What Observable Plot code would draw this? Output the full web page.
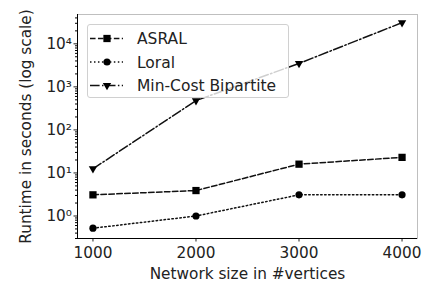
<!DOCTYPE html>
<html>
<head>
<meta charset="utf-8">
<script src="https://cdn.jsdelivr.net/npm/d3@7"></script>
<script src="https://cdn.jsdelivr.net/npm/@observablehq/plot@0.6"></script>
<style>
  body { margin: 0; background: #fff; }
  #wrap { position: relative; width: 424px; height: 281px; font-family: "DejaVu Sans", sans-serif; }
  #legend { position: absolute; left: 87px; top: 24px; width: 202px; height: 74px;
            border: 1px solid #d0d0d0; border-radius: 3px; background: rgba(255,255,255,0.8); box-sizing: border-box; }
</style>
</head>
<body>
<div id="wrap"></div>
<script>
const sizes = [1000, 2000, 3000, 4000];
const seriesNames = ["ASRAL", "Loral", "Min-Cost Bipartite"];
const asral = [3.1, 3.9, 16, 23];
const loral = [0.52, 1.0, 3.1, 3.1];
const minCost = [12.5, 480, 3500, 31000];
const yTicks = [1, 10, 100, 1000, 10000];
const supers = ["⁰", "¹", "²", "³", "⁴"];

const styles = {
  "ASRAL": {dash: "5.55,2.4", symbol: "square", r: 4.1, rotate: 0},
  "Loral": {dash: "1.5,2.475", symbol: "circle", r: 3.6, rotate: 0},
  "Min-Cost Bipartite": {dash: "9.6,2.4,1.5,2.4", symbol: "triangle", r: 3.1, rotate: 180}
};
const values = [asral, loral, minCost];
const data = seriesNames.flatMap((s, i) => sizes.map((x, j) => ({series: s, x, y: values[i][j]})));

const minor = [];
for (let e = -1; e <= 4; e++) for (let m = 2; m <= 9; m++) {
  const v = m * Math.pow(10, e);
  if (v > 0.3 && v < 48000) minor.push(v);
}

const font = "DejaVu Sans, sans-serif";
const marks = [
  Plot.frame({stroke: "#bfbfbf", strokeWidth: 1}),
  Plot.axisY(minor, {tickSize: 2, tickFormat: () => "", stroke: "#000", label: null}),
  Plot.axisY(yTicks, {tickSize: 3.5, tickPadding: 2, tickFormat: (d, i) => "10" + supers[Math.round(Math.log10(d))],
    fontSize: 15.3, fill: "#222", label: "Runtime in seconds (log scale)", labelAnchor: "center", labelArrow: "none", labelOffset: 57}),
  Plot.axisX(sizes, {tickSize: 3.5, tickPadding: 5.5, tickFormat: d => String(d), fontSize: 15.3, fill: "#222",
    label: "Network size in #vertices", labelAnchor: "center", labelArrow: "none"}),
  Plot.ruleX([850], {stroke: "#000", strokeWidth: 1}),
  Plot.ruleY([0.3], {stroke: "#000", strokeWidth: 1})
];
for (const s of seriesNames) {
  const st = styles[s];
  const d = data.filter(v => v.series === s);
  marks.push(Plot.line(d, {x: "x", y: "y", stroke: "#111", strokeWidth: 1.5, strokeDasharray: st.dash}));
  marks.push(Plot.dot(d, {x: "x", y: "y", symbol: () => st.symbol, fill: "#000", stroke: "none", r: st.r, rotate: st.rotate}));
}

const chart = Plot.plot({
  width: 424, height: 281,
  marginLeft: 77, marginRight: 7, marginTop: 14, marginBottom: 43,
  style: {fontFamily: font, fontSize: "15.3px", color: "#222", background: "#fff"},
  x: {domain: [850, 4150]},
  y: {type: "log", domain: [0.3, 48000]},
  marks
});
const wrap = document.getElementById("wrap");
wrap.appendChild(chart);

// legend
const lg = document.createElement("div");
lg.id = "legend";
const ns = "http://www.w3.org/2000/svg";
const svg = document.createElementNS(ns, "svg");
svg.setAttribute("width", 200); svg.setAttribute("height", 72);
svg.style.position = "absolute"; svg.style.left = "0"; svg.style.top = "0";
const rows = [13.5, 37, 60.5];
seriesNames.forEach((s, i) => {
  const st = styles[s];
  const y = rows[i];
  const ln = document.createElementNS(ns, "line");
  ln.setAttribute("x1", 2); ln.setAttribute("x2", 35); ln.setAttribute("y1", y); ln.setAttribute("y2", y);
  ln.setAttribute("stroke", "#111"); ln.setAttribute("stroke-width", 1.5); ln.setAttribute("stroke-dasharray", st.dash);
  svg.appendChild(ln);
  const sym = {square: d3.symbolSquare, circle: d3.symbolCircle, triangle: d3.symbolTriangle}[st.symbol];
  const p = document.createElementNS(ns, "path");
  p.setAttribute("d", d3.symbol(sym, Math.PI * st.r * st.r)());
  p.setAttribute("transform", `translate(19,${y}) rotate(${st.rotate})`);
  p.setAttribute("fill", "#000");
  svg.appendChild(p);
  const t = document.createElementNS(ns, "text");
  t.setAttribute("x", 49); t.setAttribute("y", y); t.setAttribute("dy", "0.36em");
  t.setAttribute("font-size", "15.5px"); t.setAttribute("font-family", font); t.setAttribute("fill", "#222");
  t.textContent = s;
  svg.appendChild(t);
});
lg.appendChild(svg);
wrap.appendChild(lg);
</script>
</body>
</html>
